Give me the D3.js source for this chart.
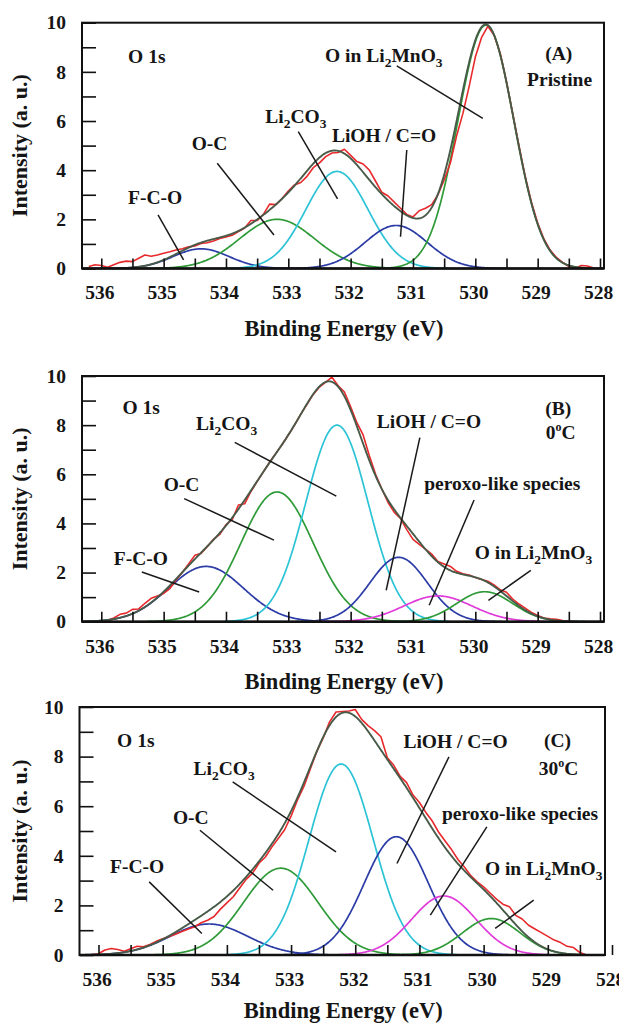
<!DOCTYPE html>
<html>
<head>
<meta charset="utf-8">
<script src="https://cdn.jsdelivr.net/npm/d3@7"></script>
<style>
  html, body { margin: 0; padding: 0; background: #fff; }
  svg text { font-family: "Liberation Serif", "Times New Roman", serif; font-weight: bold; fill: #151515; }
</style>
</head>
<body>
<svg id="fig" width="619" height="1025"></svg>
<script>
// ---------- data ----------
// binding-energy grid of the measured O 1s spectra (eV)
const energyGrid = [
  536.2, 536.1, 536.0, 535.9, 535.8, 535.7, 535.6, 535.5, 535.4, 535.3,
  535.2, 535.1, 535.0, 534.9, 534.8, 534.7, 534.6, 534.5, 534.4, 534.3,
  534.2, 534.1, 534.0, 533.9, 533.8, 533.7, 533.6, 533.5, 533.4, 533.3,
  533.2, 533.1, 533.0, 532.9, 532.8, 532.7, 532.6, 532.5, 532.4, 532.3,
  532.2, 532.1, 532.0, 531.9, 531.8, 531.7, 531.6, 531.5, 531.4, 531.3,
  531.2, 531.1, 531.0, 530.9, 530.8, 530.7, 530.6, 530.5, 530.4, 530.3,
  530.2, 530.1, 530.0, 529.9, 529.8, 529.7, 529.6, 529.5, 529.4, 529.3,
  529.2, 529.1, 529.0, 528.9, 528.8, 528.7, 528.6, 528.5, 528.4, 528.3,
  528.2, 528.1, 528.0
];

// measured intensity (a. u.), one value per grid energy
const measuredA = [
  0.08, 0.15, 0.12, 0.05, 0.15, 0.25, 0.30, 0.28, 0.42, 0.55,
  0.50, 0.55, 0.62, 0.68, 0.75, 0.80, 0.88, 0.92, 1.02, 1.05,
  1.12, 1.22, 1.28, 1.35, 1.50, 1.65, 1.95, 1.95, 2.20, 2.62,
  2.60, 2.85, 3.15, 3.40, 3.50, 3.75, 4.10, 4.30, 4.55, 4.70,
  4.72, 4.85, 4.60, 4.35, 4.25, 4.00, 3.55, 3.10, 2.95, 2.70,
  2.45, 2.20, 2.10, 2.35, 2.45, 2.60, 3.00, 3.60, 4.30, 5.40,
  6.30, 7.40, 8.60, 9.40, 9.85, 9.50, 8.75, 7.60, 6.30, 5.00,
  3.75, 2.70, 1.85, 1.20, 0.75, 0.45, 0.25, 0.08, 0.00, 0.12,
  0.10, 0.02, 0.00
];
const measuredB = [
  0.00, 0.00, 0.00, 0.05, 0.15, 0.30, 0.35, 0.50, 0.52, 0.75,
  0.95, 1.05, 1.15, 1.35, 1.70, 2.00, 2.35, 2.70, 2.78, 3.05,
  3.35, 3.55, 3.95, 4.15, 4.75, 4.80, 5.30, 5.70, 6.10, 6.50,
  6.85, 7.20, 7.60, 8.00, 8.45, 8.85, 9.25, 9.55, 9.75, 9.95,
  9.60, 9.35, 8.75, 8.10, 7.60, 6.75, 6.00, 5.40, 4.85, 4.45,
  4.20, 3.75, 3.35, 3.15, 2.95, 2.75, 2.45, 2.35, 2.25, 2.05,
  1.95, 1.90, 1.80, 1.72, 1.65, 1.50, 1.30, 1.20, 0.92, 0.72,
  0.55, 0.38, 0.25, 0.15, 0.12, 0.10, 0.05, 0.02, 0.00, 0.00,
  0.00, 0.00, 0.00
];
const measuredC = [
  0.00, 0.02, 0.05, 0.20, 0.26, 0.22, 0.15, 0.25, 0.35, 0.33,
  0.42, 0.55, 0.66, 0.75, 0.84, 0.95, 1.05, 1.14, 1.30, 1.40,
  1.55, 1.85, 2.10, 2.35, 2.70, 3.05, 3.30, 3.70, 3.95, 4.35,
  4.70, 5.05, 5.60, 6.25, 6.80, 7.50, 8.20, 8.75, 9.40, 9.80,
  9.82, 9.84, 9.90, 9.50, 9.25, 9.05, 8.80, 7.95, 7.65, 7.20,
  6.95, 6.45, 6.15, 5.75, 5.40, 4.95, 4.60, 4.25, 3.85, 3.55,
  3.20, 2.95, 2.75, 2.50, 2.25, 2.05, 1.95, 1.60, 1.45, 1.20,
  1.05, 0.90, 0.75, 0.60, 0.50, 0.35, 0.30, 0.10, 0.00, 0.00,
  0.00, 0.00, 0.00
];

// fitted components: position (eV), height (a. u.), Gaussian sigma (eV)
const namesA   = ["F-C-O", "O-C", "Li2CO3", "LiOH / C=O", "O in Li2MnO3"];
const centersA = [534.40, 533.18, 532.22, 531.27, 529.83];
const heightsA = [0.80, 2.00, 3.95, 1.75, 9.90];
const sigmasA  = [0.45, 0.60, 0.50, 0.50, 0.45];

const namesB   = ["F-C-O", "O-C", "Li2CO3", "LiOH / C=O", "peroxo-like species", "O in Li2MnO3"];
const centersB = [534.32, 533.18, 532.22, 531.23, 530.60, 529.85];
const heightsB = [2.25, 5.28, 8.00, 2.62, 1.05, 1.22];
const sigmasB  = [0.60, 0.58, 0.50, 0.46, 0.55, 0.45];

const namesC   = ["F-C-O", "O-C", "Li2CO3", "LiOH / C=O", "peroxo-like species", "O in Li2MnO3"];
const centersC = [534.28, 533.16, 532.22, 531.36, 530.62, 529.88];
const heightsC = [1.25, 3.50, 7.70, 4.77, 2.38, 1.47];
const sigmasC  = [0.60, 0.58, 0.50, 0.50, 0.50, 0.45];

// axis ticks
const energyTicks = [536, 535.5, 535, 534.5, 534, 533.5, 533, 532.5, 532, 531.5, 531, 530.5, 530, 529.5, 529, 528.5, 528];
const energyTickLabels = ["536", "535", "534", "533", "532", "531", "530", "529", "528"];
const intensityTicks = [0, 1, 2, 3, 4, 5, 6, 7, 8, 9, 10];
const intensityTickLabels = ["0", "2", "4", "6", "8", "10"];

// annotations in data units: text runs, anchor [eV, a.u.], leader line ends
const notesA = [
  { parts: [["O 1s"]], at: [535.57, 8.36] },
  { parts: [["(A)"]], at: [528.88, 8.48] },
  { parts: [["Pristine"]], at: [529.17, 7.42] },
  { parts: [["O in Li"], ["2", "sub"], ["MnO"], ["3", "sub"]], at: [532.41, 8.41], leader: [[531.26, 8.24], [529.88, 6.11]] },
  { parts: [["LiOH / C=O"]], at: [532.30, 5.16], leader: [[531.10, 4.82], [531.20, 1.29]] },
  { parts: [["Li"], ["2", "sub"], ["CO"], ["3", "sub"]], at: [533.37, 5.92], leader: [[532.84, 5.57], [532.21, 2.83]] },
  { parts: [["O-C"]], at: [534.55, 4.82], leader: [[534.14, 4.28], [533.23, 1.36]] },
  { parts: [["F-C-O"]], at: [535.57, 2.62], leader: [[535.09, 2.18], [534.68, 0.35]] }
];
const notesB = [
  { parts: [["O 1s"]], at: [535.66, 8.44] },
  { parts: [["(B)"]], at: [528.88, 8.41] },
  { parts: [["0"], ["o", "sup"], ["C"]], at: [528.87, 7.43] },
  { parts: [["Li"], ["2", "sub"], ["CO"], ["3", "sub"]], at: [534.48, 7.80], leader: [[533.86, 7.30], [532.23, 5.11]] },
  { parts: [["O-C"]], at: [535.00, 5.31], leader: [[534.67, 5.01], [533.23, 3.32]] },
  { parts: [["F-C-O"]], at: [535.80, 2.32], leader: [[535.35, 2.02], [534.43, 1.21]] },
  { parts: [["LiOH / C=O"]], at: [531.58, 7.87], leader: [[530.89, 7.49], [531.43, 1.28]] },
  { parts: [["peroxo-like species"]], at: [530.82, 5.35], leader: [[530.02, 4.95], [530.74, 0.67]] },
  { parts: [["O in Li"], ["2", "sub"], ["MnO"], ["3", "sub"]], at: [530.01, 2.57], leader: [[529.11, 2.09], [529.79, 0.87]] }
];
const notesC = [
  { parts: [["O 1s"]], at: [535.71, 8.39] },
  { parts: [["(C)"]], at: [529.06, 8.39] },
  { parts: [["30"], ["o", "sup"], ["C"]], at: [529.14, 7.25] },
  { parts: [["LiOH / C=O"]], at: [531.25, 8.33], leader: [[530.54, 7.99], [531.35, 3.69]] },
  { parts: [["Li"], ["2", "sub"], ["CO"], ["3", "sub"]], at: [534.52, 7.25], leader: [[533.91, 6.98], [532.30, 4.16]] },
  { parts: [["O-C"]], at: [534.84, 5.30], leader: [[534.42, 5.03], [533.28, 2.61]] },
  { parts: [["peroxo-like species"]], at: [530.65, 5.44], leader: [[529.95, 5.17], [530.83, 1.61]] },
  { parts: [["F-C-O"]], at: [535.82, 3.29], leader: [[535.21, 2.95], [534.39, 0.87]] },
  { parts: [["O in Li"], ["2", "sub"], ["MnO"], ["3", "sub"]], at: [529.98, 3.22], leader: [[529.22, 2.21], [529.82, 1.07]] }
];

// ---------- styling ----------
const componentColor = {
  "F-C-O": "#2b3ca6",
  "O-C": "#2f9a38",
  "Li2CO3": "#2cc3d6",
  "LiOH / C=O": "#2b3ca6",
  "peroxo-like species": "#e03cda",
  "O in Li2MnO3": "#2f9a38"
};
const measuredColor = "#e8292b";
const envelopeColor = "#485a48";

// frame box, pixel positions of the 536 / 528 eV ticks, and title offset for each panel
const panels = [
  { id: "A", frame: { left: 82, right: 604, top: 22.7, bottom: 268.5, x536: 101.3, x528: 600, titleGap: 67 },
    names: namesA, centers: centersA, heights: heightsA, sigmas: sigmasA, measured: measuredA, notes: notesA },
  { id: "B", frame: { left: 82, right: 604, top: 376, bottom: 621.7, x536: 101.3, x528: 600, titleGap: 67 },
    names: namesB, centers: centersB, heights: heightsB, sigmas: sigmasB, measured: measuredB, notes: notesB },
  { id: "C", frame: { left: 79.5, right: 605, top: 707, bottom: 955, x536: 98.5, x528: 612, titleGap: 63 },
    names: namesC, centers: centersC, heights: heightsC, sigmas: sigmasC, measured: measuredC, notes: notesC }
];

// ---------- drawing ----------
const svg = d3.select("#fig");
const defs = svg.append("defs");

function gaussian(E, c, h, s) {
  return h * Math.exp(-((E - c) * (E - c)) / (2 * s * s));
}

function drawPanel(p) {
  const f = p.frame;
  const x = d3.scaleLinear().domain([536, 528]).range([f.x536, f.x528]);
  const y = d3.scaleLinear().domain([0, 10]).range([f.bottom, f.top]);
  const eHi = x.invert(f.left), eLo = x.invert(f.right);
  const line = d3.line().x(d => x(d[0])).y(d => y(d[1]));

  defs.append("clipPath").attr("id", "clip" + p.id)
    .append("rect")
    .attr("x", f.left).attr("y", f.top - 3)
    .attr("width", f.right - f.left).attr("height", f.bottom - f.top + 3);

  const g = svg.append("g");
  const plot = g.append("g").attr("clip-path", `url(#clip${p.id})`);

  // fitted components
  p.names.forEach((name, i) => {
    const c = p.centers[i], h = p.heights[i], s = p.sigmas[i];
    const a = Math.min(eHi, c + 3.6 * s), b = Math.max(eLo, c - 3.6 * s);
    const pts = d3.range(a, b, -0.01).concat([b]).map(E => [E, gaussian(E, c, h, s)]);
    plot.append("path")
      .attr("d", line(pts))
      .attr("fill", "none")
      .attr("stroke", componentColor[name])
      .attr("stroke-width", 1.7);
  });

  // measured spectrum
  plot.append("path")
    .attr("d", line(energyGrid.map((E, i) => [E, p.measured[i]])))
    .attr("fill", "none")
    .attr("stroke", measuredColor)
    .attr("stroke-width", 1.6)
    .attr("stroke-linejoin", "round");

  // fit envelope = sum of the components
  const env = d3.range(eHi, eLo, -0.01).map(E =>
    [E, d3.sum(p.centers, (c, i) => gaussian(E, c, p.heights[i], p.sigmas[i]))]);
  plot.append("path")
    .attr("d", line(env))
    .attr("fill", "none")
    .attr("stroke", envelopeColor)
    .attr("stroke-width", 1.9);

  // inward ticks
  const xAxis = d3.axisBottom(x)
    .tickValues(energyTicks)
    .tickSize(-10)
    .tickPadding(17)
    .tickFormat(d => energyTickLabels.includes(String(d)) ? String(d) : "");
  const gx = g.append("g").attr("transform", `translate(0,${f.bottom})`).call(xAxis);
  gx.select(".domain").remove();
  gx.selectAll(".tick line").attr("stroke", "#111").attr("stroke-width", 1.6);
  gx.selectAll(".tick text").attr("font-size", 19.5).attr("dx", -2).attr("fill", "#151515");

  const yAxis = d3.axisLeft(y)
    .tickValues(intensityTicks)
    .tickSize(-14)
    .tickPadding(16)
    .tickFormat(d => intensityTickLabels.includes(String(d)) ? String(d) : "");
  const gy = g.append("g").attr("transform", `translate(${f.left},0)`).call(yAxis);
  gy.select(".domain").remove();
  gy.selectAll(".tick line").attr("stroke", "#111").attr("stroke-width", 1.6);
  gy.selectAll(".tick text").attr("font-size", 19.5).attr("fill", "#151515");

  // frame
  g.append("rect")
    .attr("x", f.left).attr("y", f.top)
    .attr("width", f.right - f.left).attr("height", f.bottom - f.top)
    .attr("fill", "none").attr("stroke", "#111").attr("stroke-width", 2);
  g.append("line")
    .attr("x1", f.left).attr("x2", f.right)
    .attr("y1", f.bottom).attr("y2", f.bottom)
    .attr("stroke", "#111").attr("stroke-width", 2.6);

  // axis titles
  g.append("text")
    .attr("x", (f.left + f.right) / 2 + 1).attr("y", f.bottom + f.titleGap)
    .attr("text-anchor", "middle").attr("font-size", 22.5)
    .text("Binding Energy (eV)");
  g.append("text")
    .attr("transform", `translate(${27},${(f.top + f.bottom) / 2}) rotate(-90)`)
    .attr("text-anchor", "middle").attr("font-size", 22)
    .text("Intensity (a. u.)");

  // annotations
  p.notes.forEach(n => {
    if (n.leader) {
      g.append("line")
        .attr("x1", x(n.leader[0][0])).attr("y1", y(n.leader[0][1]))
        .attr("x2", x(n.leader[1][0])).attr("y2", y(n.leader[1][1]))
        .attr("stroke", "#1a1a1a").attr("stroke-width", 1.5);
    }
    const t = g.append("text")
      .attr("x", x(n.at[0])).attr("y", y(n.at[1]))
      .attr("font-size", 19.5);
    let shift = 0;
    n.parts.forEach(([txt, kind]) => {
      const target = kind === "sub" ? 5 : kind === "sup" ? -8 : 0;
      const ts = t.append("tspan").attr("dy", target - shift).text(txt);
      if (kind === "sub") ts.attr("font-size", 13.5);
      if (kind === "sup") ts.attr("font-size", 12);
      shift = target;
    });
  });
}

panels.forEach(drawPanel);
</script>
</body>
</html>
